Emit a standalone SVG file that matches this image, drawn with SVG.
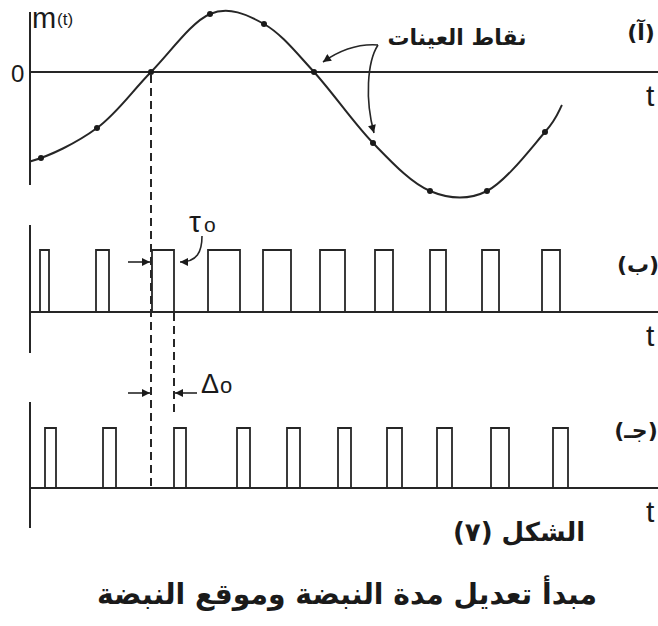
<svg xmlns="http://www.w3.org/2000/svg" width="658" height="626" viewBox="0 0 658 626">
<style>
.ax{stroke:#262626;stroke-width:2;fill:none}
.crv{stroke:#262626;stroke-width:2;fill:none}
.pl{stroke:#262626;stroke-width:1.8;fill:none}
.dash{stroke:#262626;stroke-width:2;fill:none;stroke-dasharray:8 5}
.arr{stroke:#262626;stroke-width:1.6;fill:none;marker-end:url(#ah)}
.dot{fill:#1a1a1a}
.lat{font-family:"Liberation Sans",Arial,sans-serif;fill:#1a1a1a}
.ar{font-family:"DejaVu Sans",sans-serif;font-weight:bold;fill:#1a1a1a}
</style>
<defs>
<marker id="ah" viewBox="0 0 10 10" refX="10" refY="5" markerWidth="11" markerHeight="8" markerUnits="userSpaceOnUse" orient="auto">
<path d="M0,0 L10,5 L0,10 z" fill="#1a1a1a"/>
</marker>
</defs>
<rect width="658" height="626" fill="#ffffff"/>

<g id="panel-a">
<line class="ax" x1="30" y1="12" x2="30" y2="185"/>
<line class="ax" x1="30" y1="72" x2="658" y2="72"/>
<text class="lat" x="11" y="82" font-size="24">0</text>
<text class="lat" x="32" y="28" font-size="29">m</text>
<text class="lat" x="57" y="25" font-size="17">(t)</text>
<text class="lat" x="646" y="106" font-size="30">t</text>
<text class="ar" x="641" y="40" font-size="22" text-anchor="middle" direction="rtl">(آ)</text>
<path class="crv" d="M30,161.5 C50,156 76.8,142.8 97,128 C117.2,113.2 132.2,91 151,72 C169.8,53 191.2,22 210,14 C228.8,6 246.7,14.3 264,24 C281.3,33.7 295.8,52.2 314,72 C332.2,91.8 353.7,123.2 373,143 C392.3,162.8 411,183 430,191 C449,199 467.8,200.8 487,191 C506.2,181.2 532.5,146.3 545,132 C557.5,117.7 559.2,109.5 562,105"/>
<g class="dot">
<circle cx="41" cy="158" r="3"/>
<circle cx="97" cy="128" r="3"/>
<circle cx="151" cy="72" r="3"/>
<circle cx="210" cy="14" r="3"/>
<circle cx="264" cy="24" r="3"/>
<circle cx="314" cy="72" r="3"/>
<circle cx="373" cy="143" r="3"/>
<circle cx="430" cy="191" r="3"/>
<circle cx="487" cy="191" r="3"/>
<circle cx="545" cy="132" r="3"/>
</g>
<text class="ar" x="457" y="45" font-size="22" text-anchor="middle" direction="rtl" textLength="139" lengthAdjust="spacingAndGlyphs">نقاط العينات</text>
</g>

<g id="panel-b">
<line class="ax" x1="30" y1="225" x2="30" y2="353"/>
<line class="ax" x1="30" y1="312" x2="658" y2="312"/>
<path class="pl" d="M40,312 V250 H49 V312 M96,312 V250 H109 V312 M152,312 V250 H174 V312 M208,312 V250 H240 V312 M263,312 V250 H291 V312 M320,312 V250 H345 V312 M375,312 V250 H393 V312 M430,312 V250 H446 V312 M482,312 V250 H499 V312 M542,312 V250 H560 V312"/>
<text class="lat" x="646" y="346" font-size="30">t</text>
<text class="ar" x="638" y="272" font-size="22" text-anchor="middle" direction="rtl">(ب)</text>
<text class="lat" x="189" y="232" font-size="30">τ</text>
<text class="lat" x="204" y="232" font-size="21">o</text>
</g>

<g id="panel-c">
<line class="ax" x1="30" y1="402" x2="30" y2="528"/>
<line class="ax" x1="30" y1="488" x2="658" y2="488"/>
<path class="pl" d="M45,488 V428 H56 V488 M103,488 V428 H116 V488 M174,488 V428 H186 V488 M237,488 V428 H250 V488 M287,488 V428 H300 V488 M338,488 V428 H351 V488 M387,488 V428 H402 V488 M437,488 V428 H452 V488 M491,488 V428 H509 V488 M553,488 V428 H568 V488"/>
<text class="lat" x="646" y="522" font-size="30">t</text>
<text class="ar" x="636" y="438" font-size="22" text-anchor="middle" direction="rtl">(جـ)</text>
<text class="lat" x="201" y="393" font-size="27">Δ</text>
<text class="lat" x="220" y="393" font-size="22">o</text>
</g>

<g id="connectors">
<line class="dash" x1="151" y1="75" x2="151" y2="487"/>
<line class="dash" x1="174" y1="313" x2="174" y2="416"/>
<path class="arr" d="M378,45 Q350,43 323,62"/>
<path class="arr" d="M378,45 C367,62 365,100 374,133"/>
<line class="arr" x1="128" y1="262" x2="150" y2="262"/>
<path class="arr" d="M202,236 C202,252 197,262 180,262"/>
<line class="arr" x1="128" y1="393" x2="150" y2="393"/>
<line class="arr" x1="197" y1="393" x2="175" y2="393"/>
</g>

<g id="captions">
<text class="ar" x="519" y="541" font-size="26" text-anchor="middle" direction="rtl">الشكل (٧)</text>
<text class="ar" x="347" y="604" font-size="29" text-anchor="middle" direction="rtl" textLength="500" lengthAdjust="spacingAndGlyphs">مبدأ تعديل مدة النبضة وموقع النبضة</text>
</g>
</svg>
